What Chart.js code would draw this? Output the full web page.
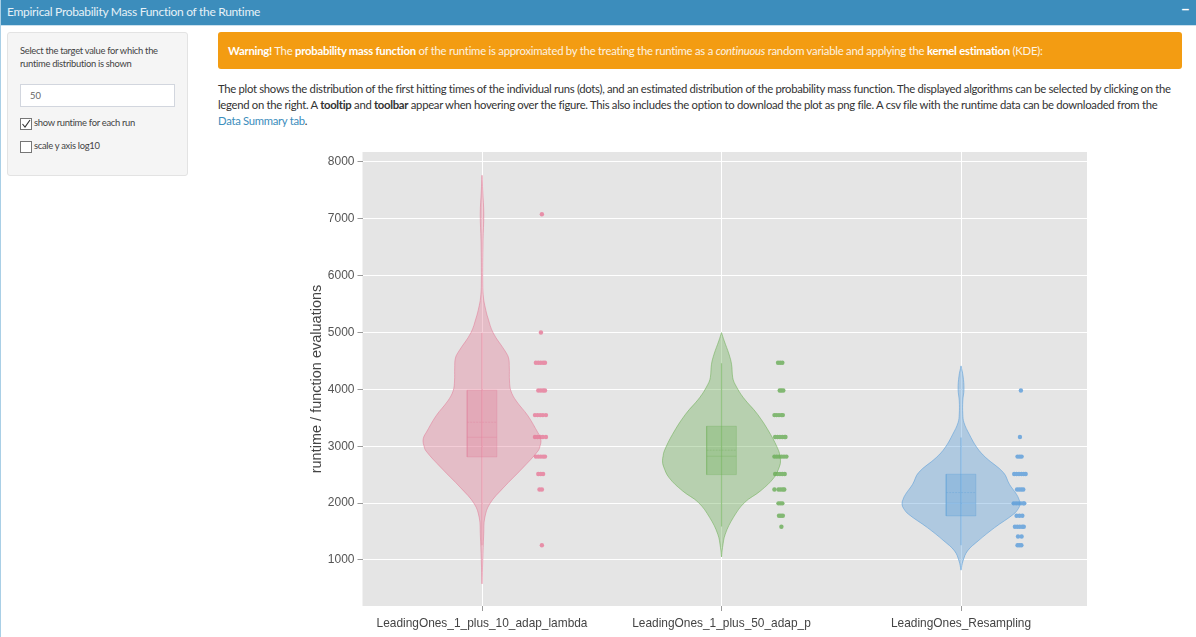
<!DOCTYPE html>
<html>
<head>
<meta charset="utf-8">
<title>Empirical Probability Mass Function of the Runtime</title>
<script src="https://cdn.jsdelivr.net/npm/chart.js@4"></script>
<style>
  html, body { margin: 0; padding: 0; background: #fff; }
  body { width: 1196px; height: 637px; overflow: hidden; position: relative; font-family: Lato, "Noto Sans", sans-serif; color: #333; border-left: 1px solid #a9cfe6; box-sizing: border-box; }
  .abs { position: absolute; white-space: nowrap; }
  #head { left: -1px; top: 0; width: 1196px; height: 25px; background: #3c8dbc; border-bottom: 1px solid #c9e0ee; box-sizing: content-box; }
  #head span { position: absolute; left: 7px; top: 4px; color: #e6f1f7; font-size: 12px; letter-spacing: -0.3px; }
  #head b { position: absolute; left: 1181px; top: 0px; color: #fff; font-size: 15px; }
  #side { left: 6px; top: 32px; width: 181px; height: 144px; background: #f5f5f5; border: 1px solid #e3e3e3; border-radius: 3px; box-sizing: border-box; }
  .small { font-size: 9.4px; letter-spacing: -0.29px; color: #444; }
  #input { left: 19px; top: 84px; width: 155px; height: 23px; border: 1px solid #d2d6de; background: #fff; box-sizing: border-box; font-size: 9.4px; color: #666; padding: 5px 0 0 9px; }
  .cb { width: 12px; height: 12px; border: 1px solid #767676; background: #fff; box-sizing: border-box; }
  .cb svg { display: block; }
  #warn { left: 217px; top: 32px; width: 964px; height: 37px; background: #f39c12; border-radius: 3px; color: #fdf3e2; font-size: 11.3px; letter-spacing: -0.24px; line-height: 37px; padding-left: 10px; box-sizing: border-box; }
  #warn b { color: #fff; }
  .para { font-size: 11.3px; letter-spacing: -0.3px; color: #333; left: 217px; }
  .para a { color: #3c8dbc; }
  #wrap { position: absolute; left: 298px; top: 140px; width: 801px; height: 497px; }
</style>
</head>
<body>
<div class="abs" id="head"><span>Empirical Probability Mass Function of the Runtime</span><b>−</b></div>
<div class="abs" id="side"></div>
<div class="abs small" style="left:19px;top:45px">Select the target value for which the</div>
<div class="abs small" style="left:19px;top:58px">runtime distribution is shown</div>
<div class="abs" id="input">50</div>
<div class="abs cb" style="left:19px;top:118px"><svg width="10" height="10" viewBox="0 0 10 10"><path d="M1.5 5 L4 8 L9 1" fill="none" stroke="#333" stroke-width="1.1"/></svg></div>
<div class="abs small" style="left:33px;top:117px">show runtime for each run</div>
<div class="abs cb" style="left:19px;top:141px"></div>
<div class="abs small" style="left:33px;top:140px">scale y axis log10</div>
<div class="abs" id="warn"><b>Warning!</b> The <b>probability mass function</b> of the runtime is approximated by the treating the runtime as a <i>continuous</i> random variable and applying the <b>kernel estimation</b> (KDE):</div>
<div class="abs para" style="top:82px">The plot shows the distribution of the first hitting times of the individual runs (dots), and an estimated distribution of the probability mass function. The displayed algorithms can be selected by clicking on the</div>
<div class="abs para" style="top:98px">legend on the right. A <b>tooltip</b> and <b>toolbar</b> appear when hovering over the figure. This also includes the option to download the plot as png file. A csv file with the runtime data can be downloaded from the</div>
<div class="abs para" style="top:114px"><a>Data Summary tab</a>.</div>
<div id="wrap"><canvas id="chart"></canvas></div>

<script>
const categories = ['LeadingOnes_1_plus_10_adap_lambda', 'LeadingOnes_1_plus_50_adap_p', 'LeadingOnes_Resampling'];
const yTickValues = [1000, 2000, 3000, 4000, 5000, 6000, 7000, 8000];

// kde outline (density relative to each violin's peak)
const pinkRuntime = [7766, 7490, 7085, 6611, 5854, 5608, 5432, 5257, 4993, 4676, 4553, 4377, 4148, 3973, 3797, 3533, 3234, 3170, 3093, 3010, 2917, 2618, 2267, 1985, 1739, 1458, 983, 579];
const pinkDensity = [0, .012, .03, .017, .012, .025, .056, .10, .19, .39, .45, .463, .466, .49, .58, .78, .95, .985, 1, .985, .95, .69, .36, .13, .046, .029, .012, 0];
const greenRuntime = [4998, 4852, 4618, 4442, 4207, 4090, 3855, 3563, 3211, 2918, 2830, 2742, 2650, 2448, 2214, 2009, 1745, 1453, 1217, 1053];
const greenDensity = [0, .046, .127, .17, .19, .23, .37, .61, .83, .97, .99, 1, .985, .89, .66, .39, .2, .063, .017, 0];
const blueRuntime = [4413, 4237, 4003, 3797, 3563, 3415, 3211, 2976, 2800, 2536, 2332, 2156, 2060, 1980, 1900, 1804, 1569, 1335, 1159, 983, 820];
const blueDensity = [0, .034, .05, .03, .03, .05, .14, .27, .42, .72, .82, .94, .985, 1, .97, .89, .57, .29, .11, .034, 0];

// box stats per algorithm
const q1 = [2812, 2501, 1775];
const q3 = [3985, 3352, 2508];
const medians = [3158, 2824, 1998];
const means = [3422, 2930, 2185];
const whiskerLow = [1260, 1587, 1260];
const whiskerHigh = [4990, 4460, 3152];

// individual runs: runtime and horizontal offset from the violin centre
const pinkDotY = [7080, 5000, 4467, 4467, 4467, 4467, 4467, 3980, 3980, 3980, 3980, 3548, 3548, 3548, 3548, 3548, 3162, 3162, 3162, 3162, 3162, 2818, 2818, 2818, 2818, 2818, 2512, 2512, 2512, 2239, 2239, 1259];
const pinkDotX = [.25, .246, .225, .235, .245, .255, .263, .235, .245, .255, .263, .221, .232, .243, .254, .267, .221, .232, .243, .254, .267, .225, .235, .245, .255, .263, .235, .245, .255, .24, .25, .25];
const greenDotY = [4467, 4467, 4467, 3981, 3981, 3981, 3548, 3548, 3548, 3548, 3548, 3162, 3162, 3162, 3162, 3162, 3162, 2818, 2818, 2818, 2818, 2818, 2818, 2512, 2512, 2512, 2512, 2512, 2239, 2239, 2239, 2239, 2239, 1995, 1995, 1995, 1778, 1778, 1778, 1585];
const greenDotX = [.236, .245, .254, .243, .25, .258, .221, .23, .24, .25, .256, .224, .234, .244, .254, .264, .267, .221, .231, .241, .251, .261, .271, .224, .234, .244, .254, .264, .221, .238, .247, .256, .262, .238, .246, .254, .24, .248, .256, .25];
const blueDotY = [3981, 3162, 2818, 2818, 2818, 2512, 2512, 2512, 2512, 2512, 2512, 2239, 2239, 2239, 2239, 1995, 1995, 1995, 1995, 1995, 1995, 1778, 1778, 1778, 1585, 1585, 1585, 1585, 1585, 1413, 1413, 1259, 1259, 1259];
const blueDotX = [.25, .246, .236, .245, .253, .222, .232, .242, .252, .262, .27, .234, .243, .252, .26, .22, .23, .24, .25, .26, .264, .232, .244, .256, .225, .235, .245, .255, .262, .238, .253, .236, .244, .252];

const PEAK = 0.2463, BOX_HALF = 0.062;

function violinOutline(center, runtime, density) {
  const right = runtime.map((y, i) => ({ x: center + density[i] * PEAK, y }));
  const left = runtime.map((y, i) => ({ x: center - density[i] * PEAK, y })).reverse();
  return right.concat(left);
}

function dots(center, ys, xs) {
  return ys.map((y, i) => ({ x: center + xs[i], y }));
}

const colors = [
  { fill: 'rgba(226,124,151,.38)', box: 'rgba(226,124,151,.3)', line: 'rgba(226,124,151,.55)', dot: '#e78fa8' },
  { fill: 'rgba(109,174,86,.38)', box: 'rgba(109,174,86,.3)', line: 'rgba(109,174,86,.55)', dot: '#82b873' },
  { fill: 'rgba(87,156,216,.38)', box: 'rgba(87,156,216,.3)', line: 'rgba(87,156,216,.55)', dot: '#76abdd' },
];

const outlines = [[pinkRuntime, pinkDensity], [greenRuntime, greenDensity], [blueRuntime, blueDensity]];
const dotSets = [[pinkDotY, pinkDotX], [greenDotY, greenDotX], [blueDotY, blueDotX]];

const datasets = [];
categories.forEach((name, i) => {
  const c = colors[i];
  const base = { showLine: true, pointRadius: 0, pointHoverRadius: 0 };
  datasets.push({ ...base, label: name, data: violinOutline(i, outlines[i][0], outlines[i][1]), fill: 'shape', backgroundColor: c.fill, borderColor: c.line, borderWidth: 1, tension: 0.4 });
  datasets.push({ ...base, label: name + ' whisker', data: [{ x: i, y: whiskerLow[i] }, { x: i, y: whiskerHigh[i] }], borderColor: c.line, borderWidth: 1.2 });
  datasets.push({ ...base, label: name + ' box', data: [
    { x: i - BOX_HALF, y: q1[i] }, { x: i + BOX_HALF, y: q1[i] }, { x: i + BOX_HALF, y: q3[i] }, { x: i - BOX_HALF, y: q3[i] }, { x: i - BOX_HALF, y: q1[i] },
  ], fill: 'shape', backgroundColor: c.box, borderColor: c.box, borderWidth: 1 });
  datasets.push({ ...base, label: name + ' median', data: [{ x: i - BOX_HALF, y: medians[i] }, { x: i + BOX_HALF, y: medians[i] }], borderColor: c.box, borderWidth: 1 });
  datasets.push({ ...base, label: name + ' mean', data: [{ x: i - BOX_HALF, y: means[i] }, { x: i + BOX_HALF, y: means[i] }], borderColor: c.box, borderWidth: 1, borderDash: [2, 1] });
  datasets.push({ label: name + ' runs', data: dots(i, dotSets[i][0], dotSets[i][1]), pointRadius: 2.2, pointBorderWidth: 0, backgroundColor: c.dot, showLine: false });
});

const plotBackground = {
  id: 'plotBackground',
  beforeDraw(chart) {
    const { ctx, chartArea: a } = chart;
    ctx.save();
    ctx.fillStyle = '#e5e5e5';
    ctx.fillRect(a.left, a.top, a.right - a.left, a.bottom - a.top);
    ctx.restore();
  },
};

new Chart(document.getElementById('chart'), {
  type: 'scatter',
  data: { datasets },
  plugins: [plotBackground],
  options: {
    responsive: true,
    maintainAspectRatio: false,
    animation: false,
    layout: { padding: { top: 12, right: 13, left: 0, bottom: 0 } },
    plugins: { legend: { display: false }, tooltip: { enabled: false } },
    scales: {
      x: {
        type: 'linear',
        min: -0.499,
        max: 2.526,
        afterBuildTicks(axis) { axis.ticks = categories.map((_, i) => ({ value: i })); },
        afterFit(axis) { axis.height = 31; },
        border: { display: false },
        grid: { color: '#fff', lineWidth: 1, tickLength: 5, tickColor: '#999' },
        ticks: { autoSkip: false, maxRotation: 0, padding: 6, color: '#444', font: { family: '"Liberation Sans"', size: 11.9 }, callback: (v) => categories[v] },
      },
      y: {
        min: 190,
        max: 8175,
        afterBuildTicks(axis) { axis.ticks = yTickValues.map((value) => ({ value })); },
        afterFit(axis) { axis.width = 63.5; },
        border: { display: false },
        grid: { color: '#fff', lineWidth: 1, tickLength: 5, tickColor: '#999' },
        title: { display: true, text: 'runtime / function evaluations', color: '#444', padding: { top: 9, bottom: 0 }, font: { family: '"Liberation Sans"', size: 14.5 } },
        ticks: { padding: 3, color: '#555', font: { family: '"Liberation Sans"', size: 12 }, callback: (v) => v },
      },
    },
  },
});
</script>
</body>
</html>
